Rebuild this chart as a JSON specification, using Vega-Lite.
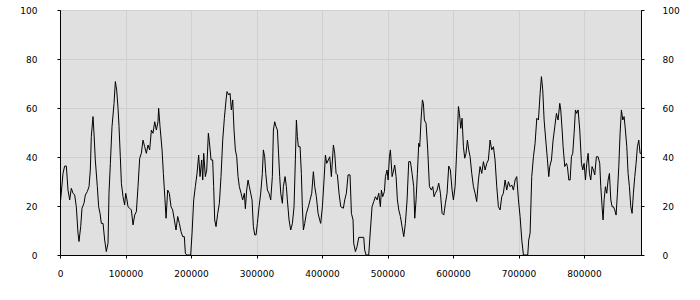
{
  "$schema": "https://vega.github.io/schema/vega-lite/v6.json",
  "width": 581,
  "height": 245,
  "autosize": "none",
  "padding": {"left": 60, "top": 10, "right": 59, "bottom": 45},
  "background": "white",
  "view": {"fill": "#e0e0e0", "stroke": "black", "strokeWidth": 1},
  "config": {
    "axis": {
      "labelFont": "DejaVu Sans",
      "labelFontSize": 9,
      "labelColor": "black",
      "domainColor": "black",
      "tickColor": "black",
      "tickSize": 3,
      "gridColor": "#d0d0d0",
      "gridWidth": 1,
      "title": null
    }
  },
  "data": {"values": [
    {"x": 0, "y": 22}, {"x": 1000, "y": 22.5}, {"x": 4600, "y": 33.3}, {"x": 7100, "y": 36.3}, {"x": 9700, "y": 36.3},
    {"x": 12200, "y": 26.5}, {"x": 14800, "y": 22.5}, {"x": 17300, "y": 27.2}, {"x": 19900, "y": 25.2}, {"x": 22400, "y": 24.5},
    {"x": 24900, "y": 19.7}, {"x": 27500, "y": 8.9}, {"x": 29000, "y": 5.5}, {"x": 31600, "y": 11.6}, {"x": 33600, "y": 19.1},
    {"x": 36600, "y": 21.1}, {"x": 38700, "y": 24.5}, {"x": 41700, "y": 25.9}, {"x": 44300, "y": 27.9}, {"x": 46300, "y": 34.7},
    {"x": 47800, "y": 48.3}, {"x": 50400, "y": 56.5}, {"x": 51900, "y": 49.7}, {"x": 53900, "y": 38.8}, {"x": 57000, "y": 27.9},
    {"x": 59000, "y": 19.7}, {"x": 61100, "y": 17.0}, {"x": 63100, "y": 12.9}, {"x": 65700, "y": 12.9}, {"x": 68200, "y": 6.1},
    {"x": 70700, "y": 1.4}, {"x": 73300, "y": 4.8}, {"x": 74800, "y": 25.2}, {"x": 76900, "y": 37.4}, {"x": 79400, "y": 52.4},
    {"x": 82500, "y": 61.9}, {"x": 84500, "y": 70.8}, {"x": 86500, "y": 67.4}, {"x": 88600, "y": 59.9}, {"x": 90100, "y": 52.4},
    {"x": 92100, "y": 40.1}, {"x": 93700, "y": 29.3}, {"x": 96200, "y": 23.8}, {"x": 98700, "y": 20.4}, {"x": 100300, "y": 25.2},
    {"x": 102300, "y": 22.5}, {"x": 103800, "y": 19.7}, {"x": 106400, "y": 19.1}, {"x": 108900, "y": 18.4}, {"x": 111500, "y": 12.3},
    {"x": 114000, "y": 16.3}, {"x": 116600, "y": 17.7}, {"x": 119100, "y": 27.9}, {"x": 121700, "y": 39.5}, {"x": 124200, "y": 41.5},
    {"x": 126700, "y": 46.9}, {"x": 129300, "y": 44.2}, {"x": 131800, "y": 41.5}, {"x": 134400, "y": 44.9}, {"x": 136900, "y": 42.9},
    {"x": 139500, "y": 51.0}, {"x": 142000, "y": 49.7}, {"x": 144600, "y": 54.4}, {"x": 147100, "y": 51.0}, {"x": 149600, "y": 54.4},
    {"x": 150600, "y": 59.9}, {"x": 152700, "y": 52.4}, {"x": 155800, "y": 42.9}, {"x": 157800, "y": 33.3}, {"x": 160300, "y": 22.5},
    {"x": 161900, "y": 15.0}, {"x": 164400, "y": 26.5}, {"x": 166900, "y": 25.2}, {"x": 169500, "y": 19.7}, {"x": 172000, "y": 18.4},
    {"x": 174600, "y": 14.3}, {"x": 177100, "y": 10.2}, {"x": 179700, "y": 15.7}, {"x": 182200, "y": 12.9}, {"x": 184800, "y": 9.5},
    {"x": 187300, "y": 7.5}, {"x": 189800, "y": 7.5}, {"x": 191400, "y": 0.7}, {"x": 193400, "y": 0}, {"x": 199500, "y": 0},
    {"x": 201600, "y": 8.9}, {"x": 204100, "y": 22.5}, {"x": 206600, "y": 27.9}, {"x": 209200, "y": 33.3}, {"x": 211700, "y": 40.8},
    {"x": 213800, "y": 32.0}, {"x": 216300, "y": 38.8}, {"x": 217900, "y": 30.6}, {"x": 219400, "y": 41.5}, {"x": 221900, "y": 32.0},
    {"x": 224000, "y": 34.7}, {"x": 226500, "y": 49.7}, {"x": 228000, "y": 46.3}, {"x": 230600, "y": 38.8}, {"x": 233100, "y": 38.8},
    {"x": 234600, "y": 27.9}, {"x": 236200, "y": 14.3}, {"x": 238200, "y": 11.6}, {"x": 240800, "y": 17.0}, {"x": 243300, "y": 21.1},
    {"x": 245800, "y": 32.0}, {"x": 248400, "y": 46.9}, {"x": 250900, "y": 55.8}, {"x": 253500, "y": 63.3}, {"x": 255000, "y": 66.7},
    {"x": 257600, "y": 65.3}, {"x": 259600, "y": 66.0}, {"x": 261600, "y": 59.2}, {"x": 263700, "y": 63.3}, {"x": 265700, "y": 51.0},
    {"x": 267700, "y": 42.9}, {"x": 269800, "y": 40.1}, {"x": 271800, "y": 32.0}, {"x": 273800, "y": 27.9}, {"x": 276400, "y": 25.2},
    {"x": 278900, "y": 22.5}, {"x": 281500, "y": 25.2}, {"x": 283000, "y": 18.9}, {"x": 285000, "y": 26.5}, {"x": 287100, "y": 30.6},
    {"x": 289100, "y": 27.9}, {"x": 291100, "y": 25.2}, {"x": 293200, "y": 22.5}, {"x": 295200, "y": 11.6}, {"x": 297300, "y": 8.2},
    {"x": 299300, "y": 8.2}, {"x": 301300, "y": 12.9}, {"x": 303900, "y": 19.7}, {"x": 306400, "y": 25.2}, {"x": 308900, "y": 33.3},
    {"x": 310500, "y": 42.9}, {"x": 312500, "y": 40.1}, {"x": 314100, "y": 33.3}, {"x": 316600, "y": 26.5}, {"x": 319100, "y": 25.2},
    {"x": 321700, "y": 22.5}, {"x": 324200, "y": 32.0}, {"x": 325800, "y": 51.0}, {"x": 327800, "y": 54.4}, {"x": 329800, "y": 52.4},
    {"x": 331900, "y": 51.0}, {"x": 333400, "y": 42.9}, {"x": 335400, "y": 32.0}, {"x": 337000, "y": 25.2}, {"x": 339500, "y": 21.1},
    {"x": 341000, "y": 27.9}, {"x": 343600, "y": 32.0}, {"x": 345600, "y": 27.9}, {"x": 347100, "y": 22.5}, {"x": 349700, "y": 14.3},
    {"x": 352200, "y": 10.2}, {"x": 354800, "y": 12.9}, {"x": 357300, "y": 19.7}, {"x": 359300, "y": 38.8}, {"x": 360900, "y": 55.1},
    {"x": 362400, "y": 48.3}, {"x": 363900, "y": 44.2}, {"x": 366500, "y": 44.2}, {"x": 368500, "y": 33.3}, {"x": 370000, "y": 19.7},
    {"x": 371600, "y": 10.2}, {"x": 373600, "y": 12.9}, {"x": 376100, "y": 17.0}, {"x": 379200, "y": 19.7}, {"x": 381800, "y": 22.5},
    {"x": 384300, "y": 25.2}, {"x": 386800, "y": 34.0}, {"x": 388900, "y": 27.9}, {"x": 391400, "y": 23.8}, {"x": 394000, "y": 17.0},
    {"x": 396500, "y": 14.3}, {"x": 398000, "y": 12.9}, {"x": 400600, "y": 19.7}, {"x": 403100, "y": 30.6}, {"x": 405200, "y": 40.8},
    {"x": 407200, "y": 37.4}, {"x": 409700, "y": 38.8}, {"x": 411800, "y": 40.1}, {"x": 414300, "y": 32.0}, {"x": 417400, "y": 44.9},
    {"x": 419400, "y": 41.5}, {"x": 421500, "y": 33.3}, {"x": 423500, "y": 32.7}, {"x": 426000, "y": 25.2}, {"x": 428600, "y": 19.7},
    {"x": 432600, "y": 19.1}, {"x": 434700, "y": 22.5}, {"x": 437200, "y": 25.2}, {"x": 439800, "y": 32.7}, {"x": 442800, "y": 32.7},
    {"x": 444900, "y": 17.0}, {"x": 447400, "y": 14.3}, {"x": 448400, "y": 4.8}, {"x": 451000, "y": 1.4}, {"x": 453500, "y": 3.4},
    {"x": 456100, "y": 7.2}, {"x": 463700, "y": 7.2}, {"x": 465200, "y": 2.0}, {"x": 467300, "y": 0}, {"x": 471300, "y": 0},
    {"x": 473900, "y": 10.2}, {"x": 476400, "y": 19.7}, {"x": 479000, "y": 21.8}, {"x": 481500, "y": 23.8}, {"x": 484100, "y": 22.5},
    {"x": 486600, "y": 25.2}, {"x": 489100, "y": 19.7}, {"x": 490700, "y": 26.5}, {"x": 492700, "y": 23.8}, {"x": 495300, "y": 25.9},
    {"x": 496800, "y": 32.0}, {"x": 499300, "y": 34.7}, {"x": 500900, "y": 30.6}, {"x": 502900, "y": 40.1}, {"x": 504400, "y": 42.9},
    {"x": 507000, "y": 32.0}, {"x": 509500, "y": 34.7}, {"x": 511000, "y": 36.7}, {"x": 513100, "y": 32.0}, {"x": 515100, "y": 22.5},
    {"x": 517200, "y": 18.4}, {"x": 519700, "y": 15.7}, {"x": 522200, "y": 11.6}, {"x": 524800, "y": 7.5}, {"x": 527300, "y": 12.9},
    {"x": 529900, "y": 22.5}, {"x": 532400, "y": 38.1}, {"x": 535000, "y": 38.1}, {"x": 537500, "y": 33.3}, {"x": 540000, "y": 27.9},
    {"x": 541600, "y": 15.0}, {"x": 543600, "y": 22.5}, {"x": 545600, "y": 33.3}, {"x": 547700, "y": 45.6}, {"x": 549200, "y": 44.2},
    {"x": 551200, "y": 55.1}, {"x": 553300, "y": 63.3}, {"x": 554800, "y": 61.9}, {"x": 556300, "y": 55.1}, {"x": 558900, "y": 53.7},
    {"x": 561400, "y": 42.9}, {"x": 564000, "y": 27.9}, {"x": 567000, "y": 26.5}, {"x": 569100, "y": 27.9}, {"x": 571100, "y": 23.8},
    {"x": 573100, "y": 25.2}, {"x": 575700, "y": 26.5}, {"x": 578200, "y": 29.3}, {"x": 580800, "y": 25.2}, {"x": 583300, "y": 17.0},
    {"x": 585900, "y": 16.3}, {"x": 588400, "y": 21.1}, {"x": 590900, "y": 25.2}, {"x": 593500, "y": 36.3}, {"x": 596000, "y": 34.7},
    {"x": 598600, "y": 26.5}, {"x": 600600, "y": 22.5}, {"x": 603200, "y": 27.9}, {"x": 605700, "y": 42.9}, {"x": 608300, "y": 60.6},
    {"x": 609800, "y": 57.8}, {"x": 611800, "y": 51.7}, {"x": 613800, "y": 55.8}, {"x": 615900, "y": 44.2}, {"x": 617900, "y": 39.5},
    {"x": 619900, "y": 41.5}, {"x": 622000, "y": 46.9}, {"x": 624000, "y": 42.9}, {"x": 626100, "y": 40.1}, {"x": 628600, "y": 33.3},
    {"x": 631200, "y": 27.9}, {"x": 633700, "y": 25.2}, {"x": 636200, "y": 21.8}, {"x": 638800, "y": 30.6}, {"x": 641300, "y": 36.1},
    {"x": 643900, "y": 33.3}, {"x": 646400, "y": 38.1}, {"x": 649000, "y": 34.7}, {"x": 651500, "y": 37.4}, {"x": 654000, "y": 38.8},
    {"x": 656600, "y": 46.9}, {"x": 659100, "y": 42.9}, {"x": 661700, "y": 44.2}, {"x": 664200, "y": 38.8}, {"x": 666800, "y": 27.9},
    {"x": 669300, "y": 19.7}, {"x": 671900, "y": 18.4}, {"x": 674400, "y": 23.8}, {"x": 676900, "y": 25.2}, {"x": 679500, "y": 30.6},
    {"x": 682000, "y": 26.5}, {"x": 684600, "y": 29.9}, {"x": 687100, "y": 27.9}, {"x": 689700, "y": 28.6}, {"x": 692200, "y": 26.5},
    {"x": 694800, "y": 30.6}, {"x": 697300, "y": 32.0}, {"x": 699900, "y": 22.5}, {"x": 702400, "y": 15.7}, {"x": 705000, "y": 6.1},
    {"x": 707500, "y": 0}, {"x": 714100, "y": 0}, {"x": 715600, "y": 6.1}, {"x": 717700, "y": 8.9}, {"x": 720200, "y": 32.0},
    {"x": 722800, "y": 40.1}, {"x": 725300, "y": 45.6}, {"x": 727900, "y": 55.8}, {"x": 730400, "y": 55.1}, {"x": 733000, "y": 66.0},
    {"x": 735000, "y": 72.8}, {"x": 737000, "y": 67.4}, {"x": 739100, "y": 55.1}, {"x": 741600, "y": 46.9}, {"x": 744200, "y": 38.8},
    {"x": 746200, "y": 32.0}, {"x": 747700, "y": 36.1}, {"x": 750300, "y": 38.8}, {"x": 752800, "y": 46.9}, {"x": 755400, "y": 52.4},
    {"x": 757900, "y": 57.8}, {"x": 760400, "y": 55.1}, {"x": 763000, "y": 61.9}, {"x": 764500, "y": 59.2}, {"x": 766600, "y": 51.0},
    {"x": 768100, "y": 44.2}, {"x": 770600, "y": 36.1}, {"x": 773200, "y": 37.4}, {"x": 774700, "y": 36.1}, {"x": 776800, "y": 30.6},
    {"x": 778800, "y": 30.6}, {"x": 780800, "y": 40.1}, {"x": 782800, "y": 41.5}, {"x": 784900, "y": 49.7}, {"x": 786900, "y": 59.2},
    {"x": 788900, "y": 57.8}, {"x": 791000, "y": 59.2}, {"x": 793500, "y": 51.0}, {"x": 796100, "y": 37.4}, {"x": 798100, "y": 34.7},
    {"x": 800100, "y": 37.4}, {"x": 802200, "y": 30.6}, {"x": 804200, "y": 37.4}, {"x": 806300, "y": 41.5}, {"x": 808300, "y": 33.3},
    {"x": 810300, "y": 30.6}, {"x": 812300, "y": 36.1}, {"x": 814400, "y": 34.7}, {"x": 816400, "y": 32.7}, {"x": 818900, "y": 40.1},
    {"x": 821500, "y": 40.1}, {"x": 824000, "y": 37.4}, {"x": 825600, "y": 27.9}, {"x": 827600, "y": 19.7}, {"x": 829100, "y": 14.3},
    {"x": 830700, "y": 22.5}, {"x": 832700, "y": 27.9}, {"x": 834700, "y": 25.2}, {"x": 836800, "y": 30.6}, {"x": 838800, "y": 33.3},
    {"x": 840900, "y": 22.5}, {"x": 842900, "y": 19.7}, {"x": 844900, "y": 19.7}, {"x": 846900, "y": 18.4}, {"x": 849000, "y": 16.3},
    {"x": 851000, "y": 25.2}, {"x": 853100, "y": 36.1}, {"x": 855100, "y": 49.7}, {"x": 857100, "y": 59.2}, {"x": 859200, "y": 55.1},
    {"x": 861200, "y": 56.5}, {"x": 863200, "y": 51.0}, {"x": 865300, "y": 44.2}, {"x": 867300, "y": 33.3}, {"x": 869300, "y": 27.9},
    {"x": 871400, "y": 19.7}, {"x": 873400, "y": 17.0}, {"x": 875400, "y": 25.2}, {"x": 877500, "y": 32.0}, {"x": 879500, "y": 37.4},
    {"x": 881500, "y": 44.2}, {"x": 883600, "y": 46.9}, {"x": 885600, "y": 41.5}, {"x": 887000, "y": 41.5}
  ]},
  "layer": [
    {
      "mark": {"type": "line", "color": "black", "strokeWidth": 1, "clip": true},
      "encoding": {
        "x": {"field": "x", "type": "quantitative",
              "scale": {"domain": [0, 887000], "nice": false, "zero": false},
              "axis": {"values": [0, 100000, 200000, 300000, 400000, 500000, 600000, 700000, 800000],
                       "format": "d", "labelPadding": 11, "grid": true, "labelFlush": false}},
        "y": {"field": "y", "type": "quantitative",
              "scale": {"domain": [0, 100], "nice": false},
              "axis": {"orient": "left", "values": [0, 20, 40, 60, 80, 100], "labelPadding": 20, "grid": true}}
      }
    },
    {
      "mark": {"type": "line", "color": "black", "strokeWidth": 1, "opacity": 0},
      "encoding": {
        "x": {"field": "x", "type": "quantitative"},
        "y": {"field": "y", "type": "quantitative",
              "axis": {"orient": "right", "values": [0, 20, 40, 60, 80, 100], "labelPadding": 18, "grid": false}}
      }
    }
  ],
  "resolve": {"axis": {"y": "independent"}}
}
